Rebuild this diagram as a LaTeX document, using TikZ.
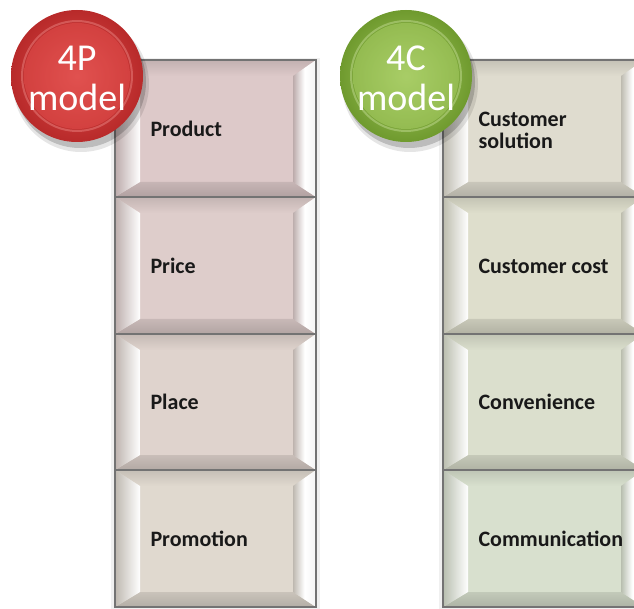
\documentclass[tikz,border=0pt]{standalone}
\usepackage{fontspec}
\setmainfont{Carlito}

% Face colours of the bevelled cells
\definecolor{pA}{HTML}{DDC9C9}
\definecolor{pB}{HTML}{DECDCB}
\definecolor{pC}{HTML}{DFD3CD}
\definecolor{pD}{HTML}{E0D9CF}
\definecolor{cA}{HTML}{DFDCCF}
\definecolor{cB}{HTML}{DEDECC}
\definecolor{cC}{HTML}{DBDFCD}
\definecolor{cD}{HTML}{D8E0CE}
\definecolor{redIn}{HTML}{E04C4A}
\definecolor{redOut}{HTML}{B82A2A}
\definecolor{grnIn}{HTML}{A6CC62}
\definecolor{grnOut}{HTML}{6F9A2E}

\tikzset{
  celltext/.style={anchor=west, font=\fontsize{22}{25}\selectfont\bfseries, text=black!90, align=left},
  balltext/.style={font=\fontsize{38}{38}\selectfont, text=white, inner sep=0pt},
  cellframe/.style={draw=black!55, line width=1.6pt},
}

% bevelled cell: #1 x0, #2 y0, #3 x1, #4 y1, #5 face colour
\newcommand\bevelcell[5]{%
  \fill[#5] (#1,#2) rectangle (#3,#4);
  % top bevel
  \shade[top color=#5!88!black, bottom color=#5]
    (#1,#2) -- (#3,#2) -- (#3-23,#2+16) -- (#1+25,#2+16) -- cycle;
  % bottom bevel
  \shade[top color=#5!90!black, bottom color=#5!80!black]
    (#1,#4) -- (#3,#4) -- (#3-23,#4-15) -- (#1+25,#4-15) -- cycle;
  % left bevel
  \shade[left color=#5!85!black, right color=white]
    (#1,#2) -- (#1+25,#2+16) -- (#1+25,#4-15) -- (#1,#4) -- cycle;
  % right bevel
  \shade[left color=#5!85!black, right color=white!96!black, middle color=white]
    (#3,#2) -- (#3-23,#2+16) -- (#3-23,#4-15) -- (#3,#4) -- cycle;
  \draw[cellframe] (#1,#2) rectangle (#3,#4);
}

% round badge: #1 x, #2 y, #3 inner colour, #4 outer colour
\newcommand\badge[4]{%
  \fill[black, opacity=0.18] (#1+3,#2+6) circle (66);
  \fill[black, opacity=0.10] (#1+4,#2+8) circle (68);
  \shade[inner color=#3, outer color=#4] (#1,#2) circle (66);
  \draw[#3!70!white, opacity=0.5, line width=2pt] (#1,#2) circle (55);
  \shade[inner color=#3!95!white, outer color=#3, opacity=0.6] (#1,#2) circle (53);
}

\begin{document}
\begin{tikzpicture}[x=1pt, y=-1pt]
  \useasboundingbox (0,0) rectangle (634,609);
  \begin{scope}
    \clip (0,0) rectangle (634,609);

    % column shadows
    \fill[black, opacity=0.06] (111,58) rectangle (320,611);
    \fill[black, opacity=0.06] (439,58) rectangle (650,611);

    % 4P column
    \bevelcell{115}{60}{316}{197}{pA}
    \bevelcell{115}{197}{316}{334}{pB}
    \bevelcell{115}{334}{316}{470}{pC}
    \bevelcell{115}{470}{316}{607}{pD}
    \node[celltext] (product)   at (147,129) {Product};
    \node[celltext] (price)     at (147,266) {Price};
    \node[celltext] (place)     at (147,402) {Place};
    \node[celltext] (promotion) at (147,539) {Promotion};

    % 4C column
    \bevelcell{443}{60}{644}{197}{cA}
    \bevelcell{443}{197}{644}{334}{cB}
    \bevelcell{443}{334}{644}{470}{cC}
    \bevelcell{443}{470}{644}{607}{cD}
    \node[celltext] (solution) at (475,130) {Customer\\[-3pt]solution};
    \node[celltext] (cost)     at (475,266) {Customer cost};
    \node[celltext] (conv)     at (475,402) {Convenience};
    \node[celltext] (comm)     at (475,539) {Communication};

    % badges
    \badge{77}{76}{redIn}{redOut}
    \node[balltext] (fourP)  at (77,58) {4P};
    \node[balltext] (modelP) at (77,97) {model};
    \badge{406}{76}{grnIn}{grnOut}
    \node[balltext] (fourC)  at (406,58) {4C};
    \node[balltext] (modelC) at (406,97) {model};
  \end{scope}
\end{tikzpicture}
\end{document}
